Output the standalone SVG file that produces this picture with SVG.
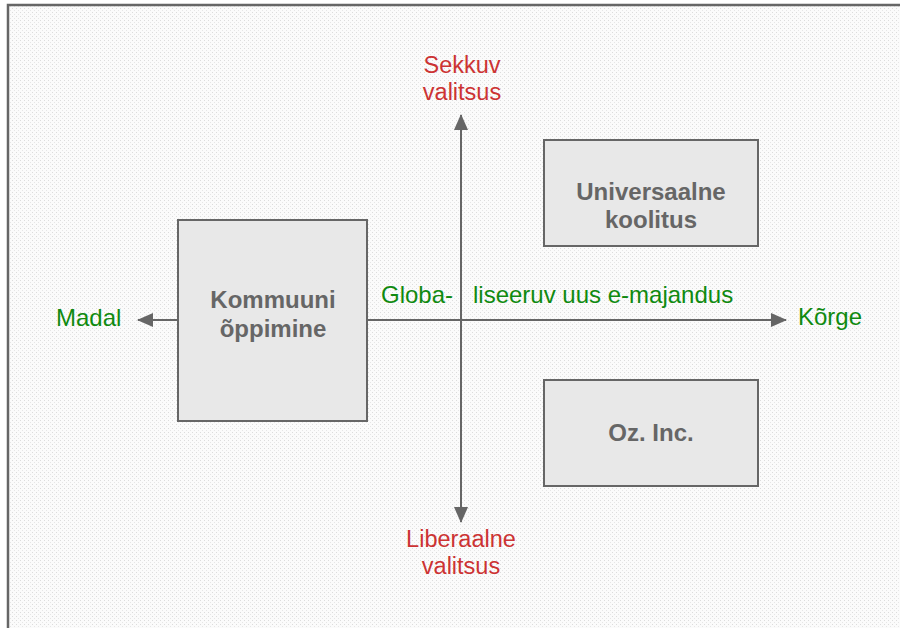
<svg xmlns="http://www.w3.org/2000/svg" width="900" height="628" viewBox="0 0 900 628">
  <defs>
    <pattern id="dots" width="4" height="4" patternUnits="userSpaceOnUse">
      <rect width="4" height="4" fill="#fbfbfb"/>
      <rect x="0" y="0" width="1" height="1" fill="#dcdcdc"/>
      <rect x="2" y="2" width="1" height="1" fill="#e6e6e6"/>
    </pattern>
    <marker id="head" viewBox="0 0 16 14" refX="15" refY="7" markerWidth="16" markerHeight="14" markerUnits="userSpaceOnUse" orient="auto">
      <path d="M0,0 L16,7 L0,14 Z" fill="#666666"/>
    </marker>
    <style>
      .axis { stroke: #666666; stroke-width: 2; fill: none; }
      .box { fill: #e8e8e8; stroke: #666666; stroke-width: 2; }
      .node { font-family: "Liberation Sans", Arial, sans-serif; font-size: 24px; font-weight: bold; fill: #666666; text-anchor: middle; }
      .green { font-family: "Liberation Sans", Arial, sans-serif; font-size: 24px; fill: #108a10; }
      .red { font-family: "Liberation Sans", Arial, sans-serif; font-size: 23.5px; fill: #cc3333; text-anchor: middle; }
    </style>
  </defs>

  <!-- page background and frame -->
  <rect width="900" height="628" fill="#ffffff"/>
  <rect x="8" y="5" width="892" height="623" fill="url(#dots)"/>
  <path d="M8,628 L8,5 L900,5" stroke="#666666" stroke-width="2.5" fill="none"/>

  <!-- axes -->
  <g id="connectors">
    <line class="axis" x1="461" y1="320" x2="461" y2="115" marker-end="url(#head)"/>
    <line class="axis" x1="461" y1="320" x2="461" y2="522" marker-end="url(#head)"/>
    <line class="axis" x1="461" y1="320" x2="138" y2="320" marker-end="url(#head)"/>
    <line class="axis" x1="461" y1="320" x2="786" y2="320" marker-end="url(#head)"/>
  </g>

  <!-- axis labels -->
  <g id="label-top">
    <text class="red" x="462" y="73">Sekkuv</text>
    <text class="red" x="462" y="100">valitsus</text>
  </g>
  <g id="label-bottom">
    <text class="red" x="461" y="547">Liberaalne</text>
    <text class="red" x="461" y="574">valitsus</text>
  </g>
  <g id="label-left">
    <text class="green" x="56" y="326">Madal</text>
  </g>
  <g id="label-right">
    <text class="green" x="798" y="325">Kõrge</text>
  </g>
  <g id="label-axis">
    <text class="green" x="381" y="303">Globa-</text>
    <text class="green" x="473" y="303">liseeruv uus e-majandus</text>
  </g>

  <!-- scenario boxes -->
  <g id="kommuuni">
    <rect class="box" x="178" y="220" width="189" height="201"/>
    <text class="node" x="273" y="308">Kommuuni</text>
    <text class="node" x="273" y="337">õppimine</text>
  </g>
  <g id="universaalne">
    <rect class="box" x="544" y="140" width="214" height="106"/>
    <text class="node" x="651" y="200">Universaalne</text>
    <text class="node" x="651" y="228">koolitus</text>
  </g>
  <g id="oz">
    <rect class="box" x="544" y="380" width="214" height="106"/>
    <text class="node" x="651" y="441">Oz. Inc.</text>
  </g>
</svg>
